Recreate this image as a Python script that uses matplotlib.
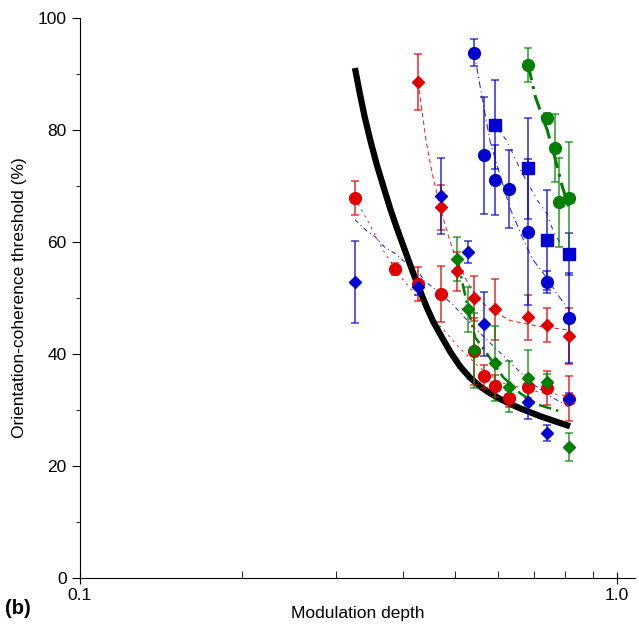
import numpy as np
import matplotlib
matplotlib.use('Agg')
import matplotlib.pyplot as plt
from matplotlib.colors import to_rgba
from matplotlib.ticker import FixedLocator, NullFormatter

plt.rcParams['font.family'] = ['Liberation Sans', 'DejaVu Sans']

RED = '#e00000'
BLUE = '#0000d0'
GREEN = '#008000'

# ---- data ----
# red diamonds
rd_x = [0.426, 0.470, 0.504, 0.542, 0.593, 0.683, 0.741, 0.814]
rd_y = [88.6, 66.2, 54.8, 50.0, 48.0, 46.6, 45.2, 43.2]
rd_e = [5.0, 4.0, 3.5, 4.0, 5.5, 4.0, 3.0, 5.0]
# red circles
rc_x = [0.325, 0.386, 0.426, 0.470, 0.542, 0.565, 0.593, 0.629, 0.683, 0.741, 0.814]
rc_y = [67.9, 55.2, 52.5, 50.7, 40.5, 36.0, 34.3, 32.1, 34.2, 33.9, 32.0]
rc_e = [3.0, 1.0, 3.0, 5.0, 6.0, 2.0, 2.0, 1.5, 2.0, 3.0, 4.0]
# blue diamonds
bd_x = [0.325, 0.426, 0.470, 0.528, 0.565, 0.683, 0.741, 0.814]
bd_y = [52.9, 52.0, 68.2, 58.2, 45.4, 31.4, 25.9, 32.0]
bd_e = [7.3, 1.5, 6.8, 2.0, 5.7, 3.0, 1.5, 1.0]
# blue circles
bc_x = [0.542, 0.565, 0.593, 0.629, 0.683, 0.741, 0.814]
bc_y = [93.8, 75.5, 71.1, 69.5, 61.8, 52.9, 46.4]
bc_e = [2.4, 10.5, 6.2, 7.0, 13.0, 2.0, 8.0]
# blue squares
bs_x = [0.593, 0.683, 0.741, 0.814]
bs_y = [81.0, 73.2, 60.4, 57.9]
bs_e = [8.0, 9.0, 9.0, 3.7]
# green diamonds
gd_x = [0.504, 0.528, 0.542, 0.593, 0.629, 0.683, 0.741, 0.814]
gd_y = [57.0, 48.0, 40.7, 38.4, 34.2, 35.7, 35.0, 23.4]
gd_e = [4.0, 4.0, 6.7, 6.7, 4.5, 5.0, 1.5, 2.5]
# green circles
gc_x = [0.683, 0.741, 0.766, 0.780, 0.814]
gc_y = [91.6, 82.1, 76.8, 67.1, 67.9]
gc_e = [3.0, 1.0, 6.0, 8.0, 10.0]

# fitted curves
black_x = [0.325, 0.332, 0.339, 0.348, 0.357, 0.367, 0.378, 0.388, 0.400,
           0.412, 0.424, 0.441, 0.454, 0.468, 0.489, 0.510, 0.532, 0.556,
           0.580, 0.605, 0.632, 0.660, 0.689, 0.719, 0.766, 0.817]
black_y = [91.1, 86.5, 82.3, 77.8, 73.8, 70.0, 66.0, 62.8, 59.3,
           55.9, 52.7, 48.6, 45.9, 43.6, 40.4, 37.8, 35.8, 34.2,
           33.0, 32.0, 31.1, 30.3, 29.6, 28.9, 28.0, 27.1]

rd_fit_x = [0.426, 0.441, 0.452, 0.472, 0.489, 0.504, 0.532, 0.549, 0.580,
            0.632, 0.710, 0.783, 0.817]
rd_fit_y = [88.6, 78.0, 72.5, 65.0, 60.0, 56.5, 52.0, 50.0, 48.0,
            46.0, 45.0, 44.5, 44.3]

rc_fit_x = [0.325, 0.347, 0.367, 0.394, 0.430, 0.468, 0.510, 0.556, 0.605,
            0.689, 0.814]
rc_fit_y = [67.9, 63.0, 58.5, 54.0, 49.5, 45.0, 41.0, 37.5, 35.0,
            33.5, 32.5]

bd_fit_x = [0.325, 0.342, 0.354, 0.370, 0.386, 0.403, 0.424, 0.439, 0.458,
            0.495, 0.532, 0.580, 0.632, 0.689, 0.750, 0.814]
bd_fit_y = [64.0, 62.0, 61.0, 59.0, 58.0, 56.4, 55.0, 53.0, 51.6,
            48.8, 45.5, 42.0, 38.5, 35.0, 32.5, 30.5]

bc_fit_x = [0.542, 0.560, 0.580, 0.605, 0.632, 0.665, 0.695, 0.728, 0.783, 0.814]
bc_fit_y = [93.8, 86.0, 78.0, 72.0, 66.0, 61.0, 57.0, 54.5, 50.0, 48.0]

bs_fit_x = [0.593, 0.624, 0.660, 0.710, 0.741, 0.760, 0.814]
bs_fit_y = [81.0, 78.0, 73.0, 67.5, 65.0, 62.0, 57.0]

gd_fit_x = [0.504, 0.528, 0.544, 0.573, 0.613, 0.660, 0.710, 0.793]
gd_fit_y = [57.0, 48.0, 43.0, 40.0, 35.9, 33.0, 31.0, 29.6]

gc_fit_x = [0.683, 0.704, 0.741, 0.766, 0.790, 0.814]
gc_fit_y = [91.6, 86.0, 80.0, 75.0, 70.0, 66.0]

fig = plt.figure(figsize=(6.39, 6.28), dpi=100)
ax = fig.add_axes([0.125, 0.0796, 0.869, 0.8914])

# fits
ax.plot(rd_fit_x, rd_fit_y, color=RED, lw=0.8, ls=(0, (4, 3)), alpha=0.8)
ax.plot(rc_fit_x, rc_fit_y, color=RED, lw=0.8, ls=(0, (2, 4)), alpha=0.8)
ax.plot(bd_fit_x, bd_fit_y, color=BLUE, lw=0.8, ls=(0, (4, 3, 1, 3)), alpha=0.8)
ax.plot(bc_fit_x, bc_fit_y, color=BLUE, lw=0.8, ls=(0, (6, 3, 1, 3)), alpha=0.8)
ax.plot(bs_fit_x, bs_fit_y, color=BLUE, lw=0.8, ls=(0, (4, 4, 1, 4)), alpha=0.8)
ax.plot(gd_fit_x, gd_fit_y, color=GREEN, lw=1.8, ls=(0, (5, 2, 1, 2)))
ax.plot(gc_fit_x, gc_fit_y, color=GREEN, lw=2.2, ls=(0, (5, 2, 1, 2)))
ax.plot(black_x, black_y, color='black', lw=4.5, solid_capstyle='butt',
        solid_joinstyle='round', zorder=5)

# points with error bars
sets = [
    (rd_x, rd_y, rd_e, RED, 'D', 6),
    (rc_x, rc_y, rc_e, RED, 'o', 8.5),
    (bd_x, bd_y, bd_e, BLUE, 'D', 6),
    (bc_x, bc_y, bc_e, BLUE, 'o', 8.5),
    (bs_x, bs_y, bs_e, BLUE, 's', 8),
    (gd_x, gd_y, gd_e, GREEN, 'D', 6),
    (gc_x, gc_y, gc_e, GREEN, 'o', 8.5),
]
for x, y, e, c, m, ms in sets:
    ax.errorbar(x, y, yerr=e, fmt=m, color=c, ms=ms, mec=c, mfc=c,
                elinewidth=1.3, capsize=3, capthick=1.2,
                ecolor=to_rgba(c, 0.7), zorder=6)

ax.set_xscale('log')
ax.set_xlim(0.1, 1.08)
ax.set_ylim(0, 100)
ax.xaxis.set_major_locator(FixedLocator([0.1, 1.0]))
ax.set_xticklabels(['0.1', '1.0'])
ax.xaxis.set_minor_locator(FixedLocator([0.2, 0.3, 0.4, 0.5, 0.6, 0.7, 0.8, 0.9]))
ax.xaxis.set_minor_formatter(NullFormatter())
ax.set_yticks([0, 20, 40, 60, 80, 100])
ax.yaxis.set_minor_locator(FixedLocator([10, 30, 50, 70, 90]))

ax.spines['top'].set_visible(False)
ax.spines['right'].set_visible(False)
ax.tick_params(axis='x', which='major', direction='inout', length=8, labelsize=12.5)
ax.tick_params(axis='x', which='minor', direction='in', length=5)
ax.tick_params(axis='y', which='major', direction='out', length=6, labelsize=12.5)
ax.tick_params(axis='y', which='minor', direction='out', length=3)

ax.set_xlabel('Modulation depth', fontsize=12.5)
ax.set_ylabel('Orientation-coherence threshold (%)', fontsize=12.5)
ax.xaxis.set_label_coords(0.5, -0.05)
ax.yaxis.set_label_coords(-0.095, 0.5)

fig.text(0.008, 0.022, '(b)', fontsize=14.5, fontweight='bold')

fig.savefig('out.png', dpi=100)
